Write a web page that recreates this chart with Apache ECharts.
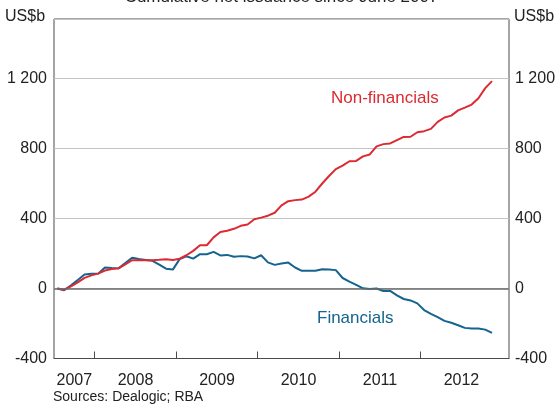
<!DOCTYPE html>
<html>
<head>
<meta charset="utf-8">
<script src="https://cdn.jsdelivr.net/npm/echarts@6/dist/echarts.min.js"></script>
<style>
  html, body { margin: 0; padding: 0; background: #fff; }
  #chart { width: 559px; height: 407px; }
</style>
</head>
<body>
<div id="chart"></div>
<script>
// monthly, Jul 2007 - Nov 2012, US$b cumulative net issuance
const firstMonth = [2007, 7];
const monthCount = 65;

const nonFinancials = [
  0, -7, 12, 35, 61, 75, 85, 103, 111, 115, 138, 162, 162, 162, 162, 164,
  167, 163, 170, 190, 215, 247, 247, 292, 323, 330, 341, 358, 366, 396, 405,
  416, 433, 475, 499, 505, 508, 525, 553, 600, 643, 682, 702, 727, 729, 755,
  766, 812, 825, 829, 848, 866, 867, 893, 899, 912, 952, 977, 988, 1018, 1034,
  1051, 1087, 1145, 1185
];

const financials = [
  0, -10, 18, 49, 80, 84, 85, 120, 117, 115, 146, 176, 168, 163, 158, 136,
  113, 108, 168, 184, 171, 196, 196, 209, 189, 192, 181, 185, 183, 172, 190,
  149, 135, 143, 148, 120, 101, 101, 101, 110, 109, 105, 60, 39, 21, 1, -3,
  0, -14, -14, -39, -60, -68, -85, -123, -145, -164, -185, -196, -210, -225,
  -229, -229, -235, -254
];

const yearTicks = [2008, 2009, 2010, 2011, 2012];
const yearLabels = ['2007', '2008', '2009', '2010', '2011', '2012'];
const yTickLabels = { '-400': '-400', '0': '0', '400': '400', '800': '800', '1200': '1 200' };

// month -> decimal year (mid-month)
const xs = [];
for (let j = 0; j < monthCount; j++) {
  const m = firstMonth[1] - 1 + j;
  xs.push(firstMonth[0] + Math.floor(m / 12) + ((m % 12) + 0.5) / 12);
}
const nonFinData = nonFinancials.map((v, i) => [xs[i], v]);
const finData = financials.map((v, i) => [xs[i], v]);

const xMin = 2007.5, xMax = 2013.0833;
// labels sit in the middle of each (visible) year
const labelPos = yearLabels.map(y => {
  const a = Math.max(+y, xMin), b = Math.min(+y + 1, 2013);
  return (a + b) / 2;
});

const FONT = 'Liberation Sans, Arial, sans-serif';
const RED = '#dc2a32';
const BLUE = '#15648f';

const chart = echarts.init(document.getElementById('chart'), null, { renderer: 'canvas' });

const yAxisBase = {
  type: 'value',
  min: -400,
  max: 1540,
  interval: 400,
  axisLine: { show: false },
  axisTick: { show: false },
  axisLabel: {
    showMaxLabel: false,
    color: '#222',
    fontSize: 16,
    fontFamily: FONT,
    formatter: v => yTickLabels[String(v)] || ''
  }
};

chart.setOption({
  animation: false,
  grid: {
    left: 54, right: 50, top: 19, bottom: 48.5,
    show: true,
    borderColor: '#4a4a4a',
    borderWidth: 1,
    outerBoundsMode: 'none'
  },
  xAxis: {
    type: 'value',
    min: xMin,
    max: xMax,
    splitLine: { show: false },
    axisLine: { show: true, onZero: false, lineStyle: { color: '#4a4a4a', width: 1 } },
    axisTick: {
      show: true,
      inside: true,
      length: 7,
      customValues: yearTicks,
      lineStyle: { color: '#4a4a4a', width: 1 }
    },
    axisLabel: {
      customValues: labelPos,
      formatter: v => String(Math.floor(v)),
      margin: 14,
      color: '#222',
      fontSize: 16,
      fontFamily: FONT
    }
  },
  yAxis: [
    Object.assign({}, yAxisBase, {
      position: 'left',
      splitLine: { show: true, lineStyle: { color: '#c4c4c4', width: 1 } },
      axisLabel: Object.assign({}, yAxisBase.axisLabel, { margin: 7 })
    }),
    Object.assign({}, yAxisBase, {
      position: 'right',
      splitLine: { show: false },
      axisLabel: Object.assign({}, yAxisBase.axisLabel, { margin: 6 })
    })
  ],
  series: [
    {
      name: 'Financials',
      type: 'line',
      data: finData,
      showSymbol: false,
      lineStyle: { color: BLUE, width: 2 },
      itemStyle: { color: BLUE },
      markLine: {
        silent: true,
        symbol: 'none',
        label: { show: false },
        lineStyle: { color: '#6b6b6b', width: 1.5, type: 'solid' },
        data: [{ yAxis: 0 }]
      }
    },
    {
      name: 'Non-financials',
      type: 'line',
      data: nonFinData,
      showSymbol: false,
      lineStyle: { color: RED, width: 2 },
      itemStyle: { color: RED }
    }
  ],
  graphic: [
    { type: 'text', x: 281.5, y: -2.5, style: { text: 'Cumulative net issuance since June 2007', font: '17px ' + FONT, fill: '#222', align: 'center', verticalAlign: 'middle' } },
    { type: 'text', x: 5, y: 17, style: { text: 'US$b', font: '16px ' + FONT, fill: '#222', align: 'left', verticalAlign: 'middle' } },
    { type: 'text', x: 514, y: 17, style: { text: 'US$b', font: '16px ' + FONT, fill: '#222', align: 'left', verticalAlign: 'middle' } },
    { type: 'text', x: 331, y: 98, style: { text: 'Non-financials', font: '17px ' + FONT, fill: RED, align: 'left', verticalAlign: 'middle' } },
    { type: 'text', x: 317, y: 318, style: { text: 'Financials', font: '17px ' + FONT, fill: BLUE, align: 'left', verticalAlign: 'middle' } },
    { type: 'text', x: 53, y: 397, style: { text: 'Sources: Dealogic; RBA', font: '14px ' + FONT, fill: '#222', align: 'left', verticalAlign: 'middle' } }
  ]
});
</script>
</body>
</html>
